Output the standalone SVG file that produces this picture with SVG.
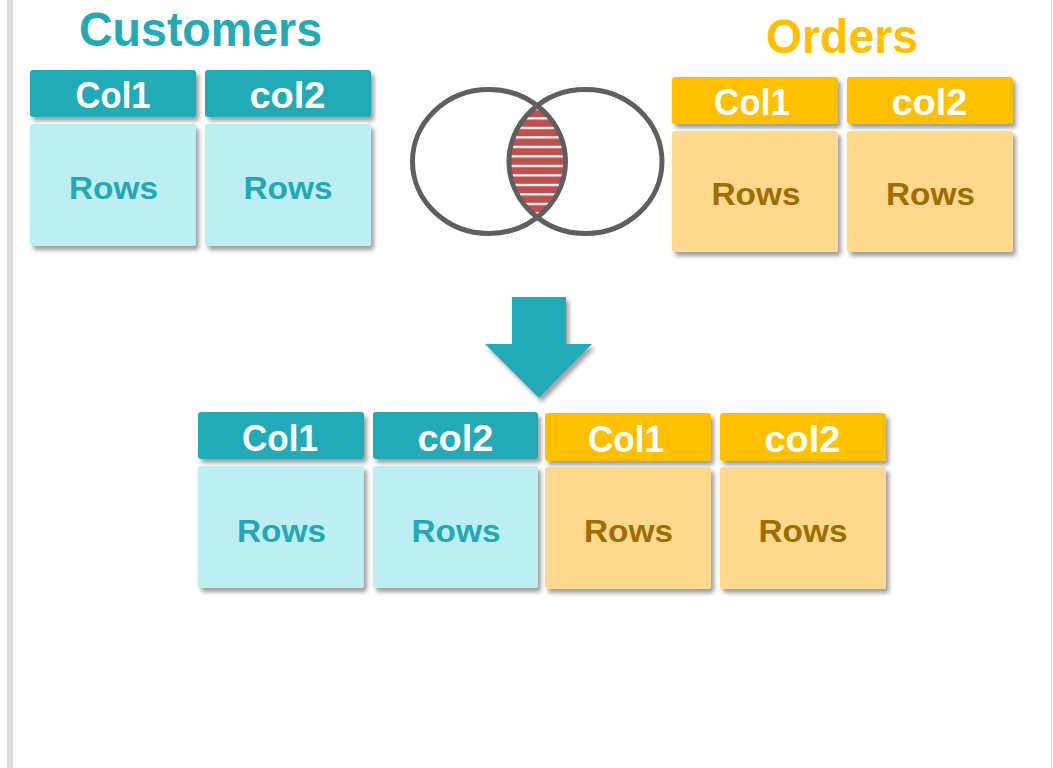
<svg xmlns="http://www.w3.org/2000/svg" width="1053" height="768" viewBox="0 0 1053 768">
  <defs>
    <filter id="sh" x="-10%" y="-10%" width="130%" height="140%">
      <feDropShadow dx="3" dy="4" stdDeviation="2.2" flood-color="#000" flood-opacity="0.38"/>
    </filter>
    <pattern id="stripes" patternUnits="userSpaceOnUse" x="0" y="117.3" width="20" height="9.5">
      <rect x="0" y="0" width="20" height="9.5" fill="#c0504d"/>
      <rect x="0" y="0" width="20" height="2.2" fill="#ffffff"/>
    </pattern>
    <clipPath id="rightEll">
      <ellipse cx="585.5" cy="161.5" rx="76.5" ry="72"/>
    </clipPath>
    <style>
      .t { font-family: "Liberation Sans", Arial, sans-serif; font-weight: bold; text-anchor: middle; }
      .hdrC { fill: #22abb7; }
      .hdrO { fill: #ffc000; }
      .bodyC { fill: #bdeef2; }
      .bodyO { fill: #fed98e; }
      .hdrTxt { fill: #ffffff; font-size: 36px; }
      .rowC { fill: #22a9b5; font-size: 32px; }
      .rowO { fill: #a06d00; font-size: 32px; }
      .ven { fill: none; stroke: #5f5f5f; stroke-width: 5; }
    </style>
  </defs>

  <rect x="0" y="0" width="1053" height="768" fill="#ffffff"/>
  <rect x="7" y="0" width="6" height="768" fill="#dcdcdc"/>
  <rect x="1051" y="0" width="1.5" height="768" fill="#e2e2e2"/>

  <!-- Titles -->
  <g id="title-customers">
    <text class="t" x="200.5" y="46" font-size="48" fill="#22abb7" textLength="243" lengthAdjust="spacingAndGlyphs">Customers</text>
  </g>
  <g id="title-orders">
    <text class="t" x="842" y="52.5" font-size="48" fill="#ffc000" textLength="152" lengthAdjust="spacingAndGlyphs">Orders</text>
  </g>

  <!-- Customers table -->
  <g id="customers-col1">
    <rect class="hdrC" x="30" y="70" width="166" height="47" rx="3" filter="url(#sh)"/>
    <text class="t hdrTxt" x="113" y="108" textLength="75" lengthAdjust="spacingAndGlyphs">Col1</text>
    <rect class="bodyC" x="30" y="124" width="166" height="122" rx="3" filter="url(#sh)"/>
    <text class="t rowC" x="113.5" y="198.5" textLength="89" lengthAdjust="spacingAndGlyphs">Rows</text>
  </g>
  <g id="customers-col2">
    <rect class="hdrC" x="205" y="70" width="166" height="47" rx="3" filter="url(#sh)"/>
    <text class="t hdrTxt" x="287.5" y="108" textLength="76" lengthAdjust="spacingAndGlyphs">col2</text>
    <rect class="bodyC" x="205" y="124" width="166" height="122" rx="3" filter="url(#sh)"/>
    <text class="t rowC" x="288" y="198.5" textLength="89" lengthAdjust="spacingAndGlyphs">Rows</text>
  </g>

  <!-- Orders table -->
  <g id="orders-col1">
    <rect class="hdrO" x="672" y="77" width="166" height="47" rx="3" filter="url(#sh)"/>
    <text class="t hdrTxt" x="752" y="114.5" textLength="76" lengthAdjust="spacingAndGlyphs">Col1</text>
    <rect class="bodyO" x="672" y="131" width="166" height="121" rx="3" filter="url(#sh)"/>
    <text class="t rowO" x="756" y="204.5" textLength="89" lengthAdjust="spacingAndGlyphs">Rows</text>
  </g>
  <g id="orders-col2">
    <rect class="hdrO" x="847" y="77" width="166" height="47" rx="3" filter="url(#sh)"/>
    <text class="t hdrTxt" x="929.5" y="114.5" textLength="76" lengthAdjust="spacingAndGlyphs">col2</text>
    <rect class="bodyO" x="847" y="131" width="166" height="121" rx="3" filter="url(#sh)"/>
    <text class="t rowO" x="930.5" y="204.5" textLength="89" lengthAdjust="spacingAndGlyphs">Rows</text>
  </g>

  <!-- Venn diagram -->
  <g id="venn">
    <ellipse cx="489" cy="161.5" rx="76.5" ry="72" fill="url(#stripes)" clip-path="url(#rightEll)"/>
    <ellipse class="ven" cx="489" cy="161.5" rx="76.5" ry="72"/>
    <ellipse class="ven" cx="585.5" cy="161.5" rx="76.5" ry="72"/>
  </g>

  <!-- Connectors -->
  <g id="connectors">
    <polygon points="512,297 566,297 566,344 592,344 539,398 485,344 512,344" fill="#22abb7" filter="url(#sh)"/>
  </g>

  <!-- Result table -->
  <g id="result-col1">
    <rect class="hdrC" x="198" y="412" width="166" height="47" rx="3" filter="url(#sh)"/>
    <text class="t hdrTxt" x="280" y="451" textLength="76" lengthAdjust="spacingAndGlyphs">Col1</text>
    <rect class="bodyC" x="198" y="466" width="166" height="122" rx="3" filter="url(#sh)"/>
    <text class="t rowC" x="281.5" y="541.5" textLength="89" lengthAdjust="spacingAndGlyphs">Rows</text>
  </g>
  <g id="result-col2">
    <rect class="hdrC" x="373" y="412" width="165" height="47" rx="3" filter="url(#sh)"/>
    <text class="t hdrTxt" x="455.5" y="451" textLength="76" lengthAdjust="spacingAndGlyphs">col2</text>
    <rect class="bodyC" x="373" y="466" width="165" height="122" rx="3" filter="url(#sh)"/>
    <text class="t rowC" x="456" y="541.5" textLength="89" lengthAdjust="spacingAndGlyphs">Rows</text>
  </g>
  <g id="result-col3">
    <rect class="hdrO" x="545" y="413" width="166" height="48" rx="3" filter="url(#sh)"/>
    <text class="t hdrTxt" x="626" y="452" textLength="76" lengthAdjust="spacingAndGlyphs">Col1</text>
    <rect class="bodyO" x="545" y="467" width="166" height="122" rx="3" filter="url(#sh)"/>
    <text class="t rowO" x="628.5" y="542" textLength="89" lengthAdjust="spacingAndGlyphs">Rows</text>
  </g>
  <g id="result-col4">
    <rect class="hdrO" x="720" y="413" width="166" height="48" rx="3" filter="url(#sh)"/>
    <text class="t hdrTxt" x="802.5" y="452" textLength="76" lengthAdjust="spacingAndGlyphs">col2</text>
    <rect class="bodyO" x="720" y="467" width="166" height="122" rx="3" filter="url(#sh)"/>
    <text class="t rowO" x="803" y="542" textLength="89" lengthAdjust="spacingAndGlyphs">Rows</text>
  </g>
</svg>
